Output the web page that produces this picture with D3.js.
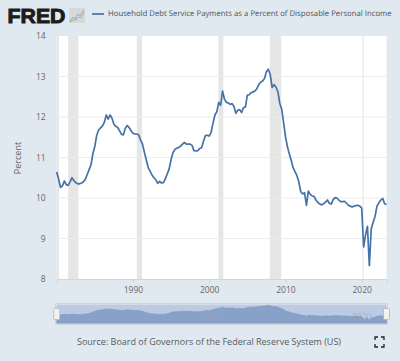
<!DOCTYPE html>
<html>
<head>
<meta charset="utf-8">
<script src="https://cdn.jsdelivr.net/npm/d3@7.9.0/dist/d3.min.js"></script>
<style>
  html, body { margin: 0; padding: 0; background: #e1e9f0; }
  svg { display: block; font-family: "Open Sans", sans-serif; }
</style>
</head>
<body>
<svg id="chart" width="400" height="361"></svg>
<script>
const seriesName = "Household Debt Service Payments as a Percent of Disposable Personal Income";
const sourceText = "Source: Board of Governors of the Federal Reserve System (US)";
const yTicks = [8, 9, 10, 11, 12, 13, 14];
const xTicks = [1990, 2000, 2010, 2020];
const navLabels = [2000, 2020];
const startYear = 1980;

// quarterly values from 1980 Q1
const debtService = [
  10.64, 10.47, 10.26, 10.30, 10.42, 10.33, 10.31, 10.40,
  10.50, 10.43, 10.38, 10.35, 10.35, 10.37, 10.40, 10.46,
  10.58, 10.70, 10.82, 11.10, 11.28, 11.55, 11.68, 11.73,
  11.78, 11.87, 12.05, 11.95, 12.05, 11.97, 11.82, 11.77,
  11.74, 11.66, 11.57, 11.56, 11.72, 11.79, 11.74, 11.66,
  11.60, 11.58, 11.58, 11.56, 11.43, 11.33, 11.13, 10.94,
  10.75, 10.66, 10.57, 10.50, 10.45, 10.36, 10.41, 10.37,
  10.38, 10.47, 10.60, 10.72, 10.95, 11.12, 11.20, 11.23,
  11.25, 11.28, 11.33, 11.37, 11.33, 11.33, 11.33, 11.30,
  11.17, 11.16, 11.17, 11.22, 11.24, 11.40, 11.54, 11.55,
  11.53, 11.62, 11.85, 12.05, 12.13, 12.36, 12.29, 12.64,
  12.44, 12.36, 12.35, 12.31, 12.33, 12.26, 12.09, 12.17,
  12.18, 12.11, 12.23, 12.25, 12.54, 12.55, 12.60, 12.62,
  12.64, 12.70, 12.80, 12.86, 12.89, 12.95, 13.12, 13.18,
  13.05, 12.73, 12.80, 12.74, 12.63, 12.34, 12.20, 11.87,
  11.52, 11.27, 11.09, 10.93, 10.75, 10.65, 10.55, 10.40,
  10.16, 10.10, 10.13, 9.82, 10.17, 10.09, 10.05, 10.04,
  9.95, 9.89, 9.85, 9.83, 9.86, 9.90, 9.95, 9.87,
  9.85, 9.96, 10.01, 10.00, 9.95, 9.91, 9.91, 9.92,
  9.87, 9.82, 9.80, 9.78, 9.80, 9.81, 9.82, 9.80,
  9.75, 8.79, 9.09, 9.30, 8.33, 9.24, 9.40, 9.55,
  9.80, 9.88, 9.95, 9.99, 9.86, 9.84
];

const recessionStart = [1980.0, 1981.5, 1990.5, 2001.2, 2007.95, 2020.1];
const recessionEnd = [1980.3, 1982.85, 1991.2, 2001.85, 2009.45, 2020.25];

const points = debtService.map((v, i) => ({ year: startYear + i / 4, value: v }));

const svg = d3.select("#chart");
const plot = { left: 56.7, right: 386.5, top: 36, bottom: 279 };

const x = d3.scaleLinear().domain([startYear, 2023.25]).range([plot.left, plot.right]);
const y = d3.scaleLinear().domain([8, 14]).range([plot.bottom, plot.top]);

// plot background
svg.append("rect")
  .attr("x", plot.left)
  .attr("y", plot.top)
  .attr("width", plot.right - plot.left)
  .attr("height", plot.bottom - plot.top)
  .attr("fill", "#fff");

// recession bands
svg.append("g")
  .selectAll("rect")
  .data(recessionStart)
  .join("rect")
  .attr("x", (d) => x(d))
  .attr("y", plot.top)
  .attr("width", (d, i) => x(recessionEnd[i]) - x(d))
  .attr("height", plot.bottom - plot.top)
  .attr("fill", "#e6e6e6");

// y axis and grid
const yAxis = svg.append("g")
  .attr("transform", `translate(${plot.left},0)`)
  .call(d3.axisLeft(y).tickValues(yTicks).tickSize(0).tickPadding(11).tickFormat(d3.format("d")));
yAxis.select(".domain").remove();
yAxis.selectAll("text").attr("font-size", 8.5).attr("font-family", "Open Sans").attr("fill", "#666");

svg.append("g")
  .selectAll("line")
  .data(yTicks.slice(1, -1))
  .join("line")
  .attr("x1", plot.left)
  .attr("x2", plot.right)
  .attr("y1", (d) => y(d))
  .attr("y2", (d) => y(d))
  .attr("stroke", "#ececec")
  .attr("stroke-width", 1);

// x axis
const xAxis = svg.append("g")
  .attr("transform", `translate(0,${plot.bottom})`)
  .call(d3.axisBottom(x).tickValues(xTicks).tickSize(4).tickPadding(4).tickFormat(d3.format("d")));
xAxis.select(".domain").attr("stroke", "#ccd6eb");
xAxis.selectAll("line").attr("stroke", "#ccd6eb");
xAxis.selectAll("text").attr("font-size", 8.5).attr("font-family", "Open Sans").attr("fill", "#666");

// y axis title
svg.append("text")
  .attr("transform", "translate(17,158) rotate(-90)")
  .attr("text-anchor", "middle")
  .attr("dominant-baseline", "central")
  .attr("font-size", 9)
  .attr("fill", "#666")
  .text("Percent");

// series line
const line = d3.line().x((d) => x(d.year)).y((d) => y(d.value));
svg.append("path")
  .datum(points)
  .attr("d", line)
  .attr("fill", "none")
  .attr("stroke", "#4572a7")
  .attr("stroke-width", 1.7)
  .attr("stroke-linejoin", "round");

// header: logo, icon, legend
svg.append("text")
  .attr("x", 7.5)
  .attr("y", 22.5)
  .attr("font-family", "Liberation Sans")
  .attr("font-weight", 700)
  .attr("font-size", 19.5)
  .attr("fill", "#1c1c1c")
  .attr("stroke", "#1c1c1c")
  .attr("stroke-width", 0.9)
  .attr("textLength", 58)
  .attr("lengthAdjust", "spacingAndGlyphs")
  .text("FRED");

const icon = svg.append("g").attr("transform", "translate(69,8)");
icon.append("rect").attr("width", 16).attr("height", 15).attr("fill", "#d6d9dc");
const iconLine = d3.line();
icon.append("path")
  .attr("d", iconLine([[1, 13], [4, 9], [6, 11], [9, 6], [11, 8], [15, 2]]))
  .attr("fill", "none").attr("stroke", "#7f9bc0").attr("stroke-width", 0.8);
icon.append("path")
  .attr("d", iconLine([[1, 14], [4, 12], [7, 12], [10, 9], [12, 10], [15, 5]]))
  .attr("fill", "none").attr("stroke", "#8fae6a").attr("stroke-width", 0.8);

svg.append("line")
  .attr("x1", 92).attr("x2", 104)
  .attr("y1", 14).attr("y2", 14)
  .attr("stroke", "#4572a7")
  .attr("stroke-width", 1.7);

svg.append("text")
  .attr("x", 108)
  .attr("y", 14)
  .attr("dominant-baseline", "central")
  .attr("font-size", 7.75)
  .attr("text-rendering", "geometricPrecision")
  .attr("fill", "#4c5258")
  .text(seriesName);

// navigator
const nav = { top: 304.7, bottom: 323.3 };
const navY = d3.scaleLinear().domain([8.33, 13.18]).range([321, 305.3]);

svg.append("rect")
  .attr("x", plot.left)
  .attr("y", nav.top)
  .attr("width", plot.right - plot.left)
  .attr("height", nav.bottom - nav.top)
  .attr("fill", "#bccbe2");

const navArea = d3.area()
  .x((d) => x(d.year))
  .y0(nav.bottom)
  .y1((d) => navY(d.value));
svg.append("path")
  .datum(points)
  .attr("d", navArea)
  .attr("fill", "#88a1c8")
  .attr("stroke", "#7f99c2")
  .attr("stroke-width", 0.6);

svg.append("g")
  .selectAll("text")
  .data(navLabels)
  .join("text")
  .attr("x", (d) => x(d))
  .attr("y", 320)
  .attr("text-anchor", "middle")
  .attr("font-size", 8.5)
  .attr("fill", "#9aa3b0")
  .attr("fill-opacity", 0.75)
  .text((d) => d);

svg.append("rect")
  .attr("x", plot.left - 1)
  .attr("y", nav.top - 1)
  .attr("width", plot.right - plot.left + 2)
  .attr("height", nav.bottom - nav.top + 2)
  .attr("fill", "none")
  .attr("stroke", "#ccd0d8")
  .attr("stroke-width", 1);

// navigator handles
svg.append("g")
  .selectAll("rect")
  .data([startYear, 2023.25])
  .join("rect")
  .attr("x", (d) => x(d) - 3)
  .attr("y", 308.5)
  .attr("width", 6)
  .attr("height", 11)
  .attr("rx", 1)
  .attr("fill", "#f2f2f2")
  .attr("stroke", "#b5b5b5")
  .attr("stroke-width", 0.8);

// source
svg.append("text")
  .attr("x", 209)
  .attr("y", 341)
  .attr("text-anchor", "middle")
  .attr("dominant-baseline", "central")
  .attr("font-size", 9)
  .attr("fill", "#555b61")
  .text(sourceText);

// fullscreen icon
const corners = [
  [[375, 340], [375, 337], [378, 337]],
  [[381, 337], [384, 337], [384, 340]],
  [[384, 344], [384, 347], [381, 347]],
  [[378, 347], [375, 347], [375, 344]]
];
svg.append("g")
  .selectAll("path")
  .data(corners)
  .join("path")
  .attr("d", (d) => d3.line()(d))
  .attr("fill", "none")
  .attr("stroke", "#222")
  .attr("stroke-width", 1.3);
</script>
</body>
</html>
